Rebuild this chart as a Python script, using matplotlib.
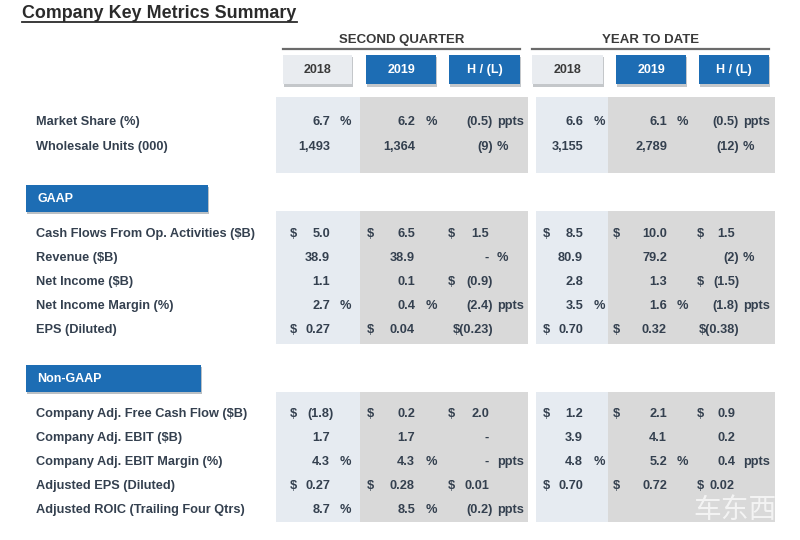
import matplotlib
matplotlib.use("Agg")
import matplotlib.pyplot as plt
from matplotlib.patches import Rectangle

# ---- data ----
main_labels = ["Market Share (%)", "Wholesale Units (000)"]
main_q2018 = ["6.7 %", "1,493"]
main_q2019 = ["6.2 %", "1,364"]
main_qhl = ["(0.5) ppts", "(9) %"]
main_y2018 = ["6.6 %", "3,155"]
main_y2019 = ["6.1 %", "2,789"]
main_yhl = ["(0.5) ppts", "(12) %"]

gaap_labels = ["Cash Flows From Op. Activities ($B)", "Revenue ($B)", "Net Income ($B)",
               "Net Income Margin (%)", "EPS (Diluted)"]
gaap_q2018 = ["$ 5.0", "38.9", "1.1", "2.7 %", "$ 0.27"]
gaap_q2019 = ["$ 6.5", "38.9", "0.1", "0.4 %", "$ 0.04"]
gaap_qhl = ["$ 1.5", "- %", "$ (0.9)", "(2.4) ppts", "$(0.23)"]
gaap_y2018 = ["$ 8.5", "80.9", "2.8", "3.5 %", "$ 0.70"]
gaap_y2019 = ["$ 10.0", "79.2", "1.3", "1.6 %", "$ 0.32"]
gaap_yhl = ["$ 1.5", "(2) %", "$ (1.5)", "(1.8) ppts", "$(0.38)"]

ng_labels = ["Company Adj. Free Cash Flow ($B)", "Company Adj. EBIT ($B)",
             "Company Adj. EBIT Margin (%)", "Adjusted EPS (Diluted)",
             "Adjusted ROIC (Trailing Four Qtrs)"]
ng_q2018 = ["$ (1.8)", "1.7", "4.3 %", "$ 0.27", "8.7 %"]
ng_q2019 = ["$ 0.2", "1.7", "4.3 %", "$ 0.28", "8.5 %"]
ng_qhl = ["$ 2.0", "-", "- ppts", "$ 0.01", "(0.2) ppts"]
ng_y2018 = ["$ 1.2", "3.9", "4.8 %", "$ 0.70", ""]
ng_y2019 = ["$ 2.1", "4.1", "5.2 %", "$ 0.72", ""]
ng_yhl = ["$ 0.9", "0.2", "0.4 ppts", "$ 0.02", ""]

group_titles = ["SECOND QUARTER", "YEAR TO DATE"]
col_headers = ["2018", "2019", "H / (L)"]

# ---- style ----
TXT = "#34404f"
BLUE = "#1d6db4"
LIGHT = "#e6ebf1"
GREY = "#d9d9d9"
FONT = "Liberation Sans"
FS = 9.2

fig = plt.figure(figsize=(8, 5.4), dpi=100)
ax = fig.add_axes([0, 0, 1, 1])
ax.set_xlim(0, 800)
ax.set_ylim(540, 0)
ax.axis("off")

# title
ax.text(22, 13, "Company Key Metrics Summary", fontsize=12.9, fontweight="bold",
        family=FONT, color="#2b2b2b", va="center", ha="left")
ax.plot([22, 297], [22, 22], color="#2b2b2b", lw=1.3)

# column geometry
box_x = [(283, 352), (366, 436), (449, 520), (532, 603), (616, 686), (699, 769)]
dollar_x = [290, 367, 448, 543, 613, 697]
num_right = [330, 415, 489, 583, 667, 735]
suffix_x = [340, 426, 497, 594, 677, 743]

# group titles + lines
for (x0, x1), t in zip([(283, 520), (532, 769)], group_titles):
    ax.text((x0 + x1) / 2, 40, t, fontsize=9.5, fontweight="bold", family=FONT,
            color="#3a3a3a", ha="center", va="center")
    ax.plot([x0, x1], [48.5, 48.5], color="#6b6b6b", lw=1.6)

# header boxes
for i, (x0, x1) in enumerate(box_x):
    hdr = col_headers[i % 3]
    is2018 = (i % 3 == 0)
    ax.add_patch(Rectangle((x0 + 1, 57), x1 - x0, 30, color="#9ea3a8", alpha=0.6, lw=0))
    ax.add_patch(Rectangle((x0, 55), x1 - x0, 29, color="#e9ecf0" if is2018 else BLUE, lw=0))
    ax.text((x0 + x1) / 2, 70, hdr, fontsize=9, fontweight="bold", family=FONT,
            color="#3a3a3a" if is2018 else "white", ha="center", va="center")


def panel(y0, y1):
    ax.add_patch(Rectangle((276, y0), 84, y1 - y0, color=LIGHT, lw=0))
    ax.add_patch(Rectangle((360, y0), 168, y1 - y0, color=GREY, lw=0))
    ax.add_patch(Rectangle((536, y0), 72, y1 - y0, color=LIGHT, lw=0))
    ax.add_patch(Rectangle((608, y0), 167, y1 - y0, color=GREY, lw=0))


def banner(x1, y0, y1, text):
    ax.add_patch(Rectangle((27, y0 + 2), x1 - 26, y1 - y0, color="#8f979e", alpha=0.6, lw=0))
    ax.add_patch(Rectangle((26, y0), x1 - 26, y1 - y0, color=BLUE, lw=0))
    ax.text(37, (y0 + y1) / 2, text, fontsize=9, fontweight="bold", family=FONT,
            color="white", ha="left", va="center")


def split_cell(s):
    dollar = False
    if s.startswith("$ "):
        dollar = True
        s = s[2:].strip()
    suffix = ""
    for suf in (" ppts", " %"):
        if s.endswith(suf):
            suffix = suf.strip()
            s = s[:-len(suf)].strip()
    return dollar, s, suffix


def draw_rows(labels, cols, ys):
    kw = dict(fontsize=FS, fontweight="bold", family=FONT, color=TXT, va="center")
    for r, (lab, y) in enumerate(zip(labels, ys)):
        ax.text(36, y, lab, ha="left", **kw)
        for c, col in enumerate(cols):
            cell = col[r]
            if not cell:
                continue
            dollar, num, suf = split_cell(cell)
            if dollar:
                ax.text(dollar_x[c], y, "$", ha="left", **kw)
            xr = num_right[c] + (4 if num.endswith(")") else 0)
            ax.text(xr, y, num, ha="right", **kw)
            if suf:
                ax.text(suffix_x[c], y, suf, ha="left", **kw)


panel(97, 173)
draw_rows(main_labels, [main_q2018, main_q2019, main_qhl, main_y2018, main_y2019, main_yhl],
          [122, 147])

banner(208, 185, 212, "GAAP")
panel(211, 344)
draw_rows(gaap_labels, [gaap_q2018, gaap_q2019, gaap_qhl, gaap_y2018, gaap_y2019, gaap_yhl],
          [234, 258, 282, 306, 330])

banner(201, 365, 392, "Non-GAAP")
panel(392, 522)
draw_rows(ng_labels, [ng_q2018, ng_q2019, ng_qhl, ng_y2018, ng_y2019, ng_yhl],
          [414, 438, 462, 486, 510])

# watermark
ax.text(735, 510, "车东西", fontsize=20, family=["Noto Sans CJK SC", "DejaVu Sans"],
        color="white", alpha=0.7, ha="center", va="center", fontstyle="italic")

fig.savefig("out.png", dpi=100)
